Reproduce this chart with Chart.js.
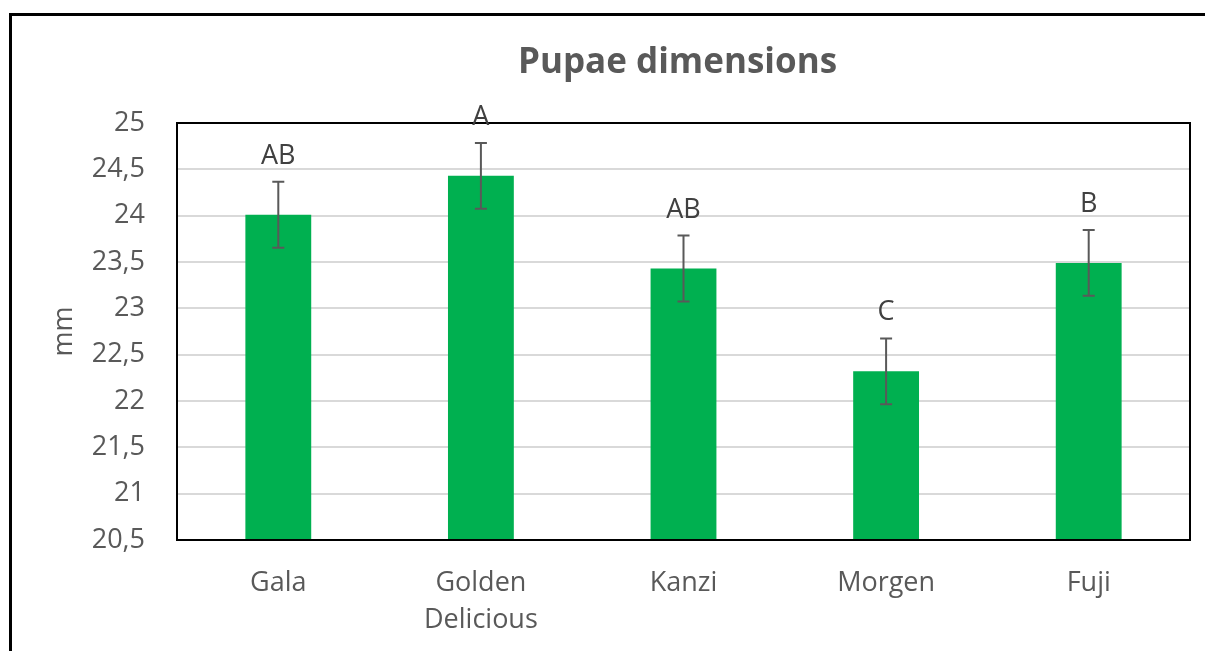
<!DOCTYPE html>
<html>
<head>
<meta charset="utf-8">
<script src="https://cdn.jsdelivr.net/npm/chart.js@4"></script>
<style>
	html, body { margin: 0; padding: 0; background: #fff; }
	#wrap { width: 1205px; height: 651px; }
</style>
</head>
<body>
<div id="wrap"><canvas id="myChart" width="1205" height="651"></canvas></div>
<script>
const categories = ["Gala", ["Golden", "Delicious"], "Kanzi", "Morgen", "Fuji"];
const means = [24.01, 24.43, 23.43, 22.32, 23.49];
const errors = [0.355, 0.355, 0.355, 0.355, 0.355];
const letters = ["AB", "A", "AB", "C", "B"];
const yMin = 20.5;
const yMax = 25;
const yStep = 0.5;

const FONT = "'Open Sans', sans-serif";

// error bars, letters, frame and title
const extras = {
	id: "extras",
	beforeDraw(chart) {
		let ctx = chart.ctx;
		ctx.save();
		ctx.fillStyle = "#fff";
		ctx.fillRect(0, 0, chart.width, chart.height);
		ctx.strokeStyle = "#000";
		ctx.lineWidth = 3;
		ctx.beginPath();
		ctx.moveTo(10.5, chart.height + 5);
		ctx.lineTo(10.5, 14.5);
		ctx.lineTo(chart.width + 5, 14.5);
		ctx.stroke();
		ctx.restore();
	},
	afterDatasetsDraw(chart) {
		let ctx = chart.ctx;
		let y = chart.scales.y;
		let meta = chart.getDatasetMeta(0);
		let area = chart.chartArea;

		ctx.save();
		ctx.strokeStyle = "#000";
		ctx.lineWidth = 2;
		ctx.strokeRect(area.left, area.top, area.right - area.left, area.bottom - area.top);

		ctx.strokeStyle = "#595959";
		ctx.lineWidth = 2;
		meta.data.forEach((bar, i) => {
			let top = y.getPixelForValue(means[i] + errors[i]);
			let bot = y.getPixelForValue(means[i] - errors[i]);
			ctx.beginPath();
			ctx.moveTo(bar.x, top);
			ctx.lineTo(bar.x, bot);
			ctx.moveTo(bar.x - 6, top);
			ctx.lineTo(bar.x + 6, top);
			ctx.moveTo(bar.x - 6, bot);
			ctx.lineTo(bar.x + 6, bot);
			ctx.stroke();

			ctx.fillStyle = "#404040";
			ctx.font = "27px " + FONT;
			ctx.textAlign = "center";
			ctx.textBaseline = "alphabetic";
			ctx.fillText(letters[i], bar.x, top - 18);
		});

		ctx.fillStyle = "#595959";
		ctx.font = "bold 35px " + FONT;
		ctx.textAlign = "center";
		ctx.textBaseline = "alphabetic";
		ctx.fillText("Pupae dimensions", (area.left + area.right) / 2 - 6, 73);
		ctx.restore();
	},
};

let ctx = document.getElementById("myChart");
let myChart = new Chart(ctx, {
	type: "bar",
	data: {
		labels: categories,
		datasets: [
			{
				label: "mm",
				data: means,
				backgroundColor: "#00B050",
				borderWidth: 0,
				categoryPercentage: 0.65,
				barPercentage: 0.5,
			},
		],
	},
	options: {
		responsive: false,
		animation: false,
		devicePixelRatio: 1,
		layout: {
			padding: { top: 123, right: 15, bottom: 0, left: 0 },
		},
		plugins: {
			legend: { display: false },
			tooltip: { enabled: false },
		},
		scales: {
			x: {
				grid: { display: false, drawTicks: false },
				border: { display: false },
				ticks: {
					color: "#595959",
					font: { family: FONT, size: 27, lineHeight: 1.4 },
					padding: 24,
					maxRotation: 0,
					autoSkip: false,
				},
				afterFit: (scale) => {
					scale.height = 111;
				},
			},
			y: {
				min: yMin,
				max: yMax,
				grid: { color: "#d9d9d9", lineWidth: 2, drawTicks: false },
				border: { display: false },
				ticks: {
					stepSize: yStep,
					color: "#595959",
					font: { family: FONT, size: 27 },
					padding: 32,
					callback: (v) => v.toString().replace(".", ","),
				},
				title: {
					display: true,
					text: "mm",
					color: "#595959",
					font: { family: FONT, size: 27 },
					padding: { top: 48, bottom: 0 },
				},
				afterFit: (scale) => {
					scale.width = 177;
				},
			},
		},
	},
	plugins: [extras],
});
</script>
</body>
</html>
